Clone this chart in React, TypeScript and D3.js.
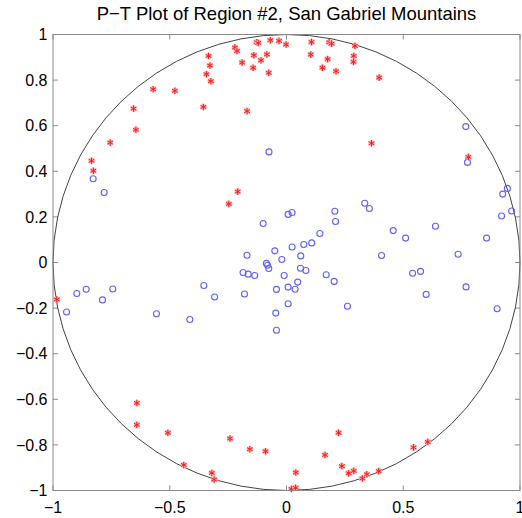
import React from "react";
import * as d3 from "d3";

const xTicks = [-1, -0.5, 0, 0.5, 1];
const yTicks = [-1, -0.8, -0.6, -0.4, -0.2, 0, 0.2, 0.4, 0.6, 0.8, 1];
const title = "P\u2212T Plot of Region #2, San Gabriel Mountains";

// blue circles (T axes)
const circlePts: [number, number][] = [
  [-0.828, 0.367], [-0.781, 0.307], [-0.075, 0.485], [-0.1, 0.171], [-0.05, 0.051],
  [-0.169, 0.032], [0.768, 0.596], [0.775, 0.439], [0.946, 0.325], [0.926, 0.3],
  [0.964, 0.226], [0.921, 0.204], [0.857, 0.107], [0.735, 0.036], [0.638, 0.159],
  [0.51, 0.107], [0.457, 0.14], [0.407, 0.031], [0.335, 0.26], [0.355, 0.237],
  [0.207, 0.225], [0.21, 0.18], [0.143, 0.127], [0.108, 0.086], [0.074, 0.079],
  [0.024, 0.068], [0.007, 0.211], [0.024, 0.219], [0.061, 0.029], [-0.02, 0.013],
  [-0.01, -0.057], [0.06, -0.025], [0.083, -0.035], [0.17, -0.054], [0.204, -0.083],
  [-0.043, -0.118], [0.007, -0.108], [0.037, -0.117], [0.048, -0.086], [0.007, -0.181],
  [-0.046, -0.222], [-0.043, -0.297], [0.261, -0.192], [0.54, -0.047], [0.574, -0.039],
  [0.598, -0.14], [0.769, -0.107], [0.902, -0.203], [-0.086, -0.004], [-0.081, -0.012],
  [-0.076, -0.026], [-0.186, -0.044], [-0.164, -0.051], [-0.136, -0.057], [-0.354, -0.101],
  [-0.308, -0.151], [-0.18, -0.138], [-0.557, -0.225], [-0.414, -0.25], [-0.744, -0.116],
  [-0.788, -0.164], [-0.858, -0.117], [-0.898, -0.136], [-0.942, -0.217],
];

// red asterisks (P axes)
const starPts: [number, number][] = [
  [-0.069, 0.975], [-0.032, 0.972], [-0.128, 0.966], [-0.121, 0.963], [-0.221, 0.943],
  [-0.212, 0.928], [-0.14, 0.909], [-0.084, 0.913], [-0.109, 0.887], [-0.19, 0.877],
  [-0.143, 0.854], [-0.076, 0.832], [-0.334, 0.906], [-0.328, 0.864], [-0.343, 0.826],
  [-0.324, 0.795], [-0.356, 0.682], [-0.169, 0.664], [-0.478, 0.753], [-0.571, 0.76],
  [-0.655, 0.675], [-0.645, 0.582], [-0.755, 0.526], [-0.835, 0.446], [-0.827, 0.402],
  [-0.209, 0.311], [-0.247, 0.257], [-0.002, 0.956], [0.107, 0.967], [0.183, 0.966],
  [0.193, 0.96], [0.293, 0.95], [0.104, 0.912], [0.176, 0.892], [0.288, 0.906],
  [0.287, 0.88], [0.154, 0.854], [0.212, 0.839], [0.397, 0.811], [0.364, 0.523],
  [0.779, 0.463], [0.223, -0.747], [0.165, -0.844], [0.04, -0.921], [0.237, -0.893],
  [0.266, -0.924], [0.288, -0.914], [0.325, -0.947], [0.344, -0.929], [0.395, -0.915],
  [0.544, -0.811], [0.605, -0.787], [0.021, -0.993], [0.039, -0.988], [-0.984, -0.162],
  [-0.641, -0.616], [-0.641, -0.712], [-0.508, -0.747], [-0.44, -0.888], [-0.32, -0.923],
  [-0.31, -0.952], [-0.242, -0.772], [-0.157, -0.819], [-0.09, -0.828],
];

const W = 522;
const H = 518;
const L = 53, R = 520, T = 34.5, B = 490.5;

const fmt = (v: number) => {
  const s = d3.format("")(Number(v.toFixed(2)));
  return s.replace("-", "\u2212");
};

export default function App() {
  const x = d3.scaleLinear().domain([-1, 1]).range([L, R]);
  const y = d3.scaleLinear().domain([-1, 1]).range([B, T]);
  const frame = "#8a8a8a";
  const tl = 5;
  const font = "'Liberation Sans', Arial, Helvetica, sans-serif";
  const star = d3.symbol().type(d3.symbolAsterisk).size(30)() as string;

  return (
    <svg width={W} height={H} style={{ position: "absolute", left: 0, top: 0, background: "#fff" }}>
      <rect x={0} y={0} width={W} height={H} fill="#fff" />
      <text x={(L + R) / 2} y={20} textAnchor="middle" fontFamily={font} fontSize={18.5} fill="#000">
        {title}
      </text>
      {/* ticks */}
      {xTicks.map((t) => (
        <g key={"x" + t}>
          <line x1={x(t)} x2={x(t)} y1={B} y2={B - tl} stroke={frame} strokeWidth={1} />
          <line x1={x(t)} x2={x(t)} y1={T} y2={T + tl} stroke={frame} strokeWidth={1} />
          <text x={x(t)} y={512.5} textAnchor="middle" fontFamily={font} fontSize={16} fill="#000">
            {fmt(t)}
          </text>
        </g>
      ))}
      {yTicks.map((t) => (
        <g key={"y" + t}>
          <line x1={L} x2={L + tl} y1={y(t)} y2={y(t)} stroke={frame} strokeWidth={1} />
          <line x1={R} x2={R - tl} y1={y(t)} y2={y(t)} stroke={frame} strokeWidth={1} />
          <text x={47.5} y={y(t)} dy="0.36em" textAnchor="end" fontFamily={font} fontSize={16} fill="#000">
            {fmt(t)}
          </text>
        </g>
      ))}
      {/* unit circle */}
      <ellipse
        cx={x(0)}
        cy={y(0)}
        rx={x(1) - x(0)}
        ry={y(0) - y(1)}
        fill="none"
        stroke="#444"
        strokeWidth={1}
      />
      {circlePts.map(([a, b], i) => (
        <circle key={"c" + i} cx={x(a)} cy={y(b)} r={3} fill="none" stroke="#6060ff" strokeWidth={1.1} />
      ))}
      {starPts.map(([a, b], i) => (
        <g key={"s" + i} transform={`translate(${x(a)},${y(b)})`}>
          <path d={star} fill="none" stroke="#ffb0b0" strokeWidth={2.6} />
          <path d={star} fill="none" stroke="#ff1a1a" strokeWidth={1} />
        </g>
      ))}
      <rect x={L} y={T} width={R - L} height={B - T} fill="none" stroke={frame} strokeWidth={1} />
    </svg>
  );
}
